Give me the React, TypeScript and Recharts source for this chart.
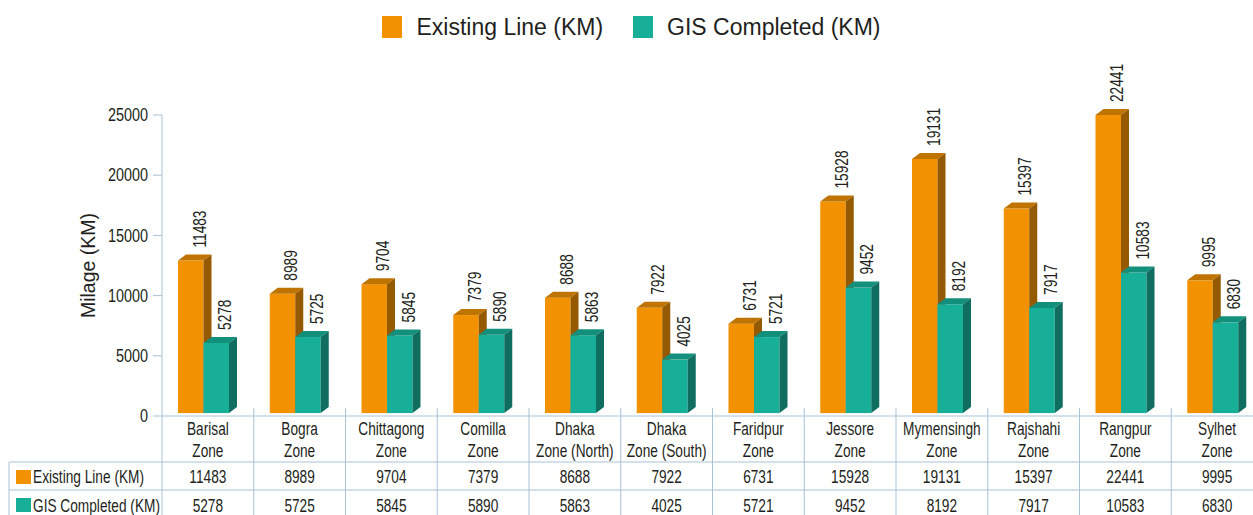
import { Bar, BarChart, LabelList, XAxis, YAxis } from "recharts";

const zoneNames = ["Barisal", "Bogra", "Chittagong", "Comilla", "Dhaka", "Dhaka", "Faridpur", "Jessore", "Mymensingh", "Rajshahi", "Rangpur", "Sylhet"];
const zoneSuffix = ["Zone", "Zone", "Zone", "Zone", "Zone (North)", "Zone (South)", "Zone", "Zone", "Zone", "Zone", "Zone", "Zone"];
const existingLine = [11483, 8989, 9704, 7379, 8688, 7922, 6731, 15928, 19131, 15397, 22441, 9995];
const gisCompleted = [5278, 5725, 5845, 5890, 5863, 4025, 5721, 9452, 8192, 7917, 10583, 6830];
const seriesNames = ["Existing Line (KM)", "GIS Completed (KM)"];
const yTicks = [0, 5000, 10000, 15000, 20000, 25000];

const data = zoneNames.map((name, i) => ({
  zone: `${name} ${zoneSuffix[i]}`,
  existing: existingLine[i],
  gis: gisCompleted[i],
}));

const W = 1263;
const H = 530;
const LEFT = 162;
const BAND = (W - LEFT) / zoneNames.length;
const DX = 8;
const DY = 6;
const GRID = "#a9c1d5";
const INK = "#231f20";
const SANS = "'Liberation Sans', Arial, sans-serif";

const ORANGE = { front: "#f39200", top: "#c07400", side: "#955a00" };
const TEAL = { front: "#17af98", top: "#13907c", side: "#0f6e60" };

// no condensed font installed, so squeeze liberation sans horizontally
const NText = ({ x, y, rotate = 0, anchor = "middle", size = 18.5, squeeze = 0.74, baseline, children }: any) => (
  <g transform={`translate(${x} ${y}) rotate(${rotate}) scale(${squeeze} 1)`}>
    <text
      x={0}
      y={0}
      textAnchor={anchor}
      dominantBaseline={baseline}
      fontFamily={SANS}
      fontSize={size}
      fill={INK}
    >
      {children}
    </text>
  </g>
);

// fake the excel 3d look: front face + top + right side
const make3D = (c: { front: string; top: string; side: string }) => (props: any) => {
  const { x, y, width, height } = props;
  if (!height || height <= 0) return null;
  const l = x - DX / 2;
  const r = l + width;
  const b = y + height;
  return (
    <g>
      <rect x={l} y={y} width={width} height={height} fill={c.front} />
      <polygon points={`${l},${y} ${l + DX},${y - DY} ${r + DX},${y - DY} ${r},${y}`} fill={c.top} />
      <polygon points={`${r},${y} ${r + DX},${y - DY} ${r + DX},${b - DY} ${r},${b}`} fill={c.side} />
    </g>
  );
};

const valueLabel = (props: any) => {
  const vb = props.viewBox || props;
  const { x, y, width } = vb;
  return (
    <NText x={x - DX / 2 + width / 2 + 8} y={y - DY - 7} rotate={-90} anchor="start" baseline="central">
      {props.value}
    </NText>
  );
};

const ValueTick = (props: any) => (
  <NText x={props.x} y={props.y} anchor="end" size={18.5} squeeze={0.78} baseline="central">
    {props.payload.value}
  </NText>
);

const ZoneTick = (props: any) => {
  const { x, y, payload } = props;
  const i = data.findIndex((d) => d.zone === payload.value);
  const l = x - BAND / 2;
  const r = x + BAND / 2;
  return (
    <g>
      <line x1={r} y1={y - 8} x2={r} y2={H} stroke={GRID} />
      {i === 0 && (
        <g>
          <line x1={l} y1={y} x2={l} y2={H} stroke={GRID} />
          <line x1={9} y1={y + 46} x2={l} y2={y + 46} stroke={GRID} />
          <line x1={9} y1={y + 74} x2={l} y2={y + 74} stroke={GRID} />
          <line x1={9} y1={y + 46} x2={9} y2={H} stroke={GRID} />
          <rect x={16} y={y + 54} width={15} height={14} fill={ORANGE.front} />
          <NText x={33} y={y + 67} anchor="start">{seriesNames[0]}</NText>
          <rect x={16} y={y + 82} width={15} height={14} fill={TEAL.front} />
          <NText x={33} y={y + 96} anchor="start">{seriesNames[1]}</NText>
        </g>
      )}
      <line x1={l} y1={y + 46} x2={r} y2={y + 46} stroke={GRID} />
      <line x1={l} y1={y + 74} x2={r} y2={y + 74} stroke={GRID} />
      <NText x={x} y={y + 19}>{zoneNames[i]}</NText>
      <NText x={x} y={y + 41}>{zoneSuffix[i]}</NText>
      <NText x={x} y={y + 67}>{existingLine[i]}</NText>
      <NText x={x} y={y + 96}>{gisCompleted[i]}</NText>
    </g>
  );
};

const Legend = () => (
  <div
    style={{
      position: "absolute",
      top: 16,
      left: 0,
      width: W,
      height: 22,
      display: "flex",
      justifyContent: "center",
      alignItems: "center",
      fontFamily: SANS,
      fontSize: 23,
      lineHeight: "22px",
      color: INK,
    }}
  >
    {seriesNames.map((name, i) => (
      <div key={name} style={{ display: "flex", alignItems: "center", marginLeft: i ? 30 : 0 }}>
        <span style={{ width: 20, height: 22, background: i ? TEAL.front : ORANGE.front, marginRight: 14 }} />
        <span>{name}</span>
      </div>
    ))}
  </div>
);

export default function App() {
  return (
    <div style={{ position: "absolute", left: 0, top: 0, width: 1253, height: 515, overflow: "hidden", background: "#fff" }}>
      <Legend />
      <BarChart
        width={W}
        height={H}
        data={data}
        margin={{ top: 115, right: 0, bottom: 0, left: 0 }}
        barGap={0}
        barSize={25.5}
      >
        <XAxis
          dataKey="zone"
          height={H - 416}
          interval={0}
          tickLine={false}
          tickSize={0}
          tickMargin={0}
          axisLine={{ stroke: GRID }}
          tick={<ZoneTick />}
        />
        <YAxis
          yAxisId="scale"
          width={LEFT}
          type="number"
          domain={[0, 25000]}
          ticks={yTicks}
          interval={0}
          allowDataOverflow
          tickSize={9}
          tickMargin={5}
          axisLine={{ stroke: GRID }}
          tickLine={{ stroke: GRID }}
          tick={<ValueTick />}
          label={{
            value: "Milage (KM)",
            content: () => (
              <text
                x={88}
                y={265.5}
                transform="rotate(-90 88 265.5)"
                textAnchor="middle"
                dominantBaseline="central"
                fontFamily={SANS}
                fontSize={19.5}
                fill={INK}
              >
                Milage (KM)
              </text>
            ),
          }}
        />
        {/* excel's 3d perspective draws bars ~11% taller than the back axis */}
        <YAxis yAxisId="bars" orientation="right" width={0} hide domain={[-220, 22200]} />
        <Bar yAxisId="bars" dataKey="existing" name={seriesNames[0]} shape={make3D(ORANGE)} isAnimationActive={false}>
          <LabelList dataKey="existing" content={valueLabel} />
        </Bar>
        <Bar yAxisId="bars" dataKey="gis" name={seriesNames[1]} shape={make3D(TEAL)} isAnimationActive={false}>
          <LabelList dataKey="gis" content={valueLabel} />
        </Bar>
      </BarChart>
    </div>
  );
}
